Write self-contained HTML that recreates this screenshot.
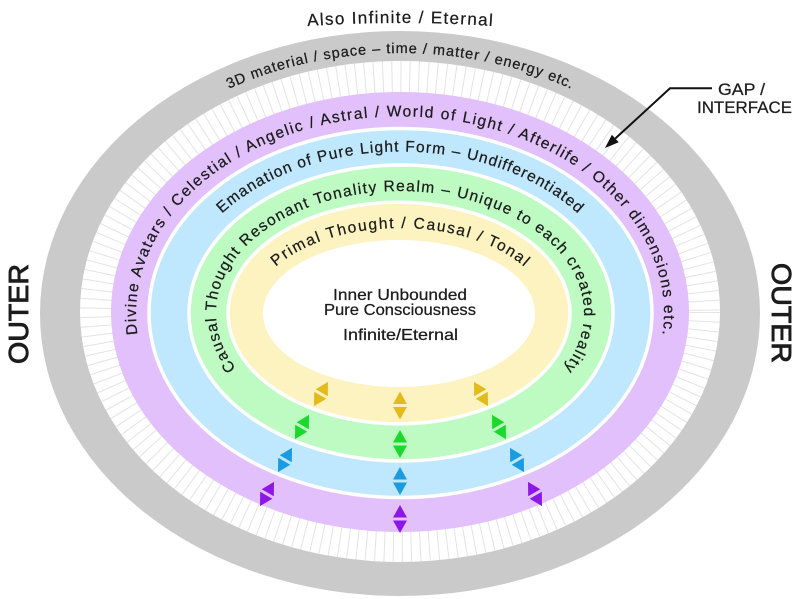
<!DOCTYPE html>
<html>
<head>
<meta charset="utf-8">
<style>
  html,body{margin:0;padding:0;background:#fff;}
  svg{display:block;}
  .t{font-family:"Liberation Sans",sans-serif;fill:#1c1c1c;stroke:#1c1c1c;stroke-width:0.25;}
</style>
</head>
<body>
<svg width="800" height="599" viewBox="0 0 800 599" xmlns="http://www.w3.org/2000/svg">
  <defs>
    <clipPath id="gapclip"><ellipse cx="400" cy="311.5" rx="320" ry="250.5"/></clipPath>
    <path id="pTop" d="M 200 37.3 A 1400 1400 0 0 1 600 37.3"/>
    <path id="pGray" d="M 228 89.2 A 338 260 0 0 1 572 89.2"/>
    <path id="pPurple" d="M 137.6 335 A 264 197 0 1 1 662.4 335"/>
    <path id="pBlue" d="M 221.9 213.6 A 226 161.5 0 0 1 578.1 213.6"/>
    <path id="pGreen" d="M 237.5 370.3 A 184 122 0 1 1 562.5 370.3"/>
    <path id="pYellow" d="M 274.9 267.6 A 148 85 0 0 1 525.1 267.6"/>
    <g id="ar">
      <polygon points="-7,-1.5 7,-1.5 0,-14"/>
      <polygon points="-7,1.5 7,1.5 0,14"/>
    </g>
  </defs>

  <!-- outer gray ring -->
  <ellipse cx="400" cy="313.5" rx="360" ry="282.5" fill="#cacaca"/>
  <!-- gap -->
  <ellipse cx="400" cy="311.5" rx="320" ry="250.5" fill="#ffffff"/>
  <g clip-path="url(#gapclip)">
    <ellipse cx="400" cy="312" rx="305" ry="235" fill="none" stroke="#e3e3e3" stroke-width="44" stroke-dasharray="1 8"/>
  </g>
  <!-- bands -->
  <ellipse cx="400" cy="312" rx="289" ry="220" fill="#e2c0fc"/>
  <ellipse cx="400.5" cy="313" rx="251.5" ry="184.5" fill="#bfe7fd" stroke="#ffffff" stroke-width="3.5"/>
  <ellipse cx="401" cy="313" rx="212" ry="148" fill="#bdfbc3" stroke="#ffffff" stroke-width="3.5"/>
  <ellipse cx="399" cy="313" rx="171" ry="110.8" fill="#fdf3c0" stroke="#ffffff" stroke-width="3.5"/>
  <ellipse cx="399" cy="313.5" rx="136" ry="73.5" fill="#ffffff"/>

  <!-- curved labels -->
  <text class="t" font-size="17"><textPath href="#pTop" startOffset="50%" text-anchor="middle" textLength="185" lengthAdjust="spacing">Also Infinite / Eternal</textPath></text>
  <text class="t" font-size="14.5"><textPath href="#pGray" startOffset="50%" text-anchor="middle" textLength="352" lengthAdjust="spacing">3D material / space – time / matter / energy etc.</textPath></text>
  <text class="t" font-size="15.5"><textPath href="#pPurple" startOffset="50%" text-anchor="middle" textLength="770" lengthAdjust="spacing">Divine Avatars / Celestial / Angelic / Astral / World of Light / Afterlife / Other dimensions etc.</textPath></text>
  <text class="t" font-size="15.5"><textPath href="#pBlue" startOffset="50%" text-anchor="middle" textLength="385" lengthAdjust="spacing">Emanation of Pure Light Form – Undifferentiated</textPath></text>
  <text class="t" font-size="15.5"><textPath href="#pGreen" startOffset="50%" text-anchor="middle" textLength="605" lengthAdjust="spacing">Causal Thought Resonant Tonality Realm – Unique to each created reality</textPath></text>
  <text class="t" font-size="15.5"><textPath href="#pYellow" startOffset="50%" text-anchor="middle" textLength="265" lengthAdjust="spacing">Primal Thought / Causal / Tonal</textPath></text>

  <!-- center text -->
  <text class="t" font-size="16" x="400" y="300" text-anchor="middle" textLength="134" lengthAdjust="spacingAndGlyphs">Inner Unbounded</text>
  <text class="t" font-size="16" x="400" y="315" text-anchor="middle" textLength="152" lengthAdjust="spacingAndGlyphs">Pure Consciousness</text>
  <text class="t" font-size="16" x="400.5" y="340" text-anchor="middle" textLength="115" lengthAdjust="spacingAndGlyphs">Infinite/Eternal</text>

  <!-- OUTER labels -->
  <text class="t" font-size="28" style="stroke-width:0.9" text-anchor="middle" transform="translate(28,314) rotate(-90)" textLength="100" lengthAdjust="spacingAndGlyphs">OUTER</text>
  <text class="t" font-size="28" style="stroke-width:0.9" text-anchor="middle" transform="translate(772,313) rotate(90)" textLength="100" lengthAdjust="spacingAndGlyphs">OUTER</text>

  <!-- GAP / INTERFACE -->
  <text class="t" font-size="17" x="741.5" y="95" text-anchor="middle" textLength="47" lengthAdjust="spacingAndGlyphs">GAP /</text>
  <text class="t" font-size="17" x="744.5" y="113" text-anchor="middle" textLength="95" lengthAdjust="spacingAndGlyphs">INTERFACE</text>
  <polyline points="712,88.3 670,88.3 615.3,138.5" fill="none" stroke="#111" stroke-width="2"/>
  <polygon points="605,148 618.7,142.2 611.9,134.8" fill="#111"/>

  <!-- arrows: yellow -->
  <use href="#ar" fill="#e3bb1d" transform="translate(400,405.5)"/>
  <use href="#ar" fill="#e3bb1d" transform="translate(321,394) rotate(30)"/>
  <use href="#ar" fill="#e3bb1d" transform="translate(481,394) rotate(-30)"/>
  <!-- green -->
  <use href="#ar" fill="#1ad92b" transform="translate(400,444)"/>
  <use href="#ar" fill="#1ad92b" transform="translate(302,427) rotate(30)"/>
  <use href="#ar" fill="#1ad92b" transform="translate(499,427) rotate(-30)"/>
  <!-- blue -->
  <use href="#ar" fill="#1b9be0" transform="translate(400,481)"/>
  <use href="#ar" fill="#1b9be0" transform="translate(285,460) rotate(30)"/>
  <use href="#ar" fill="#1b9be0" transform="translate(517,460) rotate(-30)"/>
  <!-- purple -->
  <use href="#ar" fill="#8d17e6" transform="translate(400,519)"/>
  <use href="#ar" fill="#8d17e6" transform="translate(267,494) rotate(30)"/>
  <use href="#ar" fill="#8d17e6" transform="translate(535,494) rotate(-30)"/>
</svg>
</body>
</html>
